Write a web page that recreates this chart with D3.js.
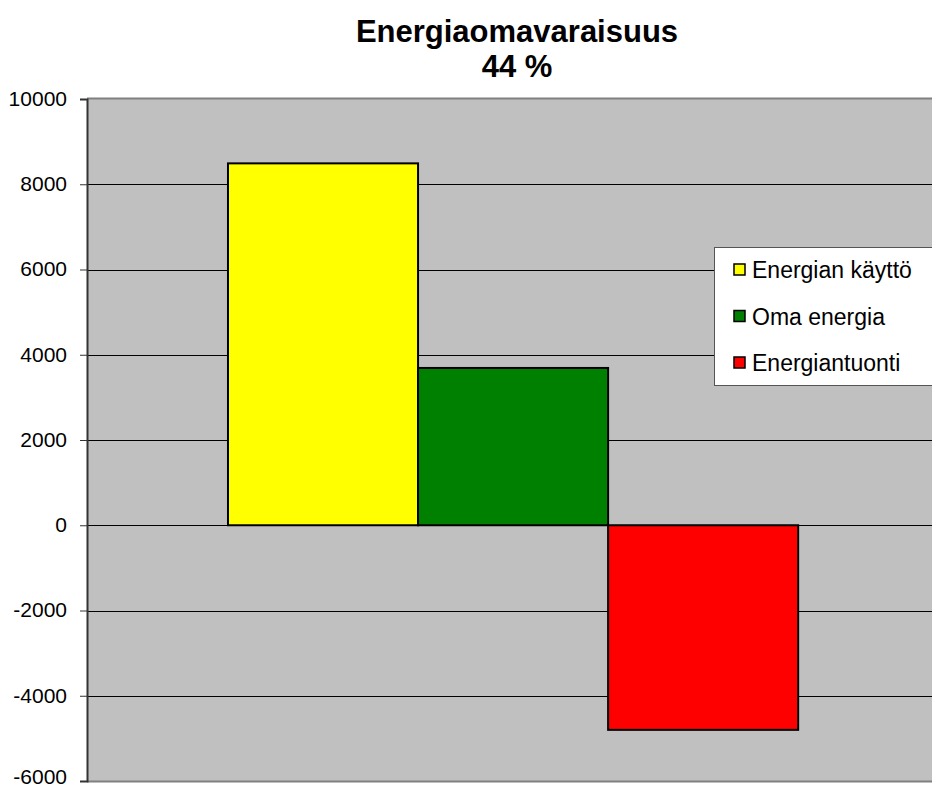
<!DOCTYPE html>
<html>
<head>
<meta charset="utf-8">
<script src="https://cdn.jsdelivr.net/npm/d3@7"></script>
<style>
  body { margin: 0; background: #fff; }
  text { font-family: "Liberation Sans", Arial, sans-serif; }
</style>
</head>
<body>
<div id="chart"></div>
<script>
var categories = ["Energiaomavaraisuus"];
var seriesNames = ["Energian käyttö", "Oma energia", "Energiantuonti"];
var seriesValues = [8490, 3690, -4800];
var seriesColors = ["#ffff00", "#008000", "#ff0000"];
var yTicks = [-6000, -4000, -2000, 0, 2000, 4000, 6000, 8000, 10000];
var titleLines = ["Energiaomavaraisuus", "44 %"];

var margin = {top: 99, right: 0, bottom: 8, left: 87},
    width = 932 - margin.left - margin.right,
    height = 789 - margin.top - margin.bottom;

var svg = d3.select("#chart").append("svg")
    .attr("width", 932)
    .attr("height", 789);

var g = svg.append("g")
    .attr("transform", "translate(" + margin.left + "," + margin.top + ")");

var x0 = d3.scaleBand().domain(categories).range([0, width])
    .paddingInner(0).paddingOuter(0.241).align(0.513);
var x1 = d3.scaleBand().domain(seriesNames).range([0, x0.bandwidth()]).padding(0);
var y = d3.scaleLinear().domain([-6000, 10000]).range([height, 0]);

// plot background
g.append("rect")
    .attr("width", width)
    .attr("height", height)
    .style("fill", "#c0c0c0");

// gridlines
g.selectAll(".grid")
    .data(yTicks.filter(function(d) { return d !== 10000 && d !== -6000; }))
  .enter().append("line")
    .attr("x1", 0)
    .attr("x2", width)
    .attr("y1", function(d) { return Math.round(y(d)) + 0.5; })
    .attr("y2", function(d) { return Math.round(y(d)) + 0.5; })
    .style("stroke", "#000")
    .style("stroke-width", 1);

// top and bottom border of plot
g.append("line").attr("x1", 0).attr("x2", width).attr("y1", -0.5).attr("y2", -0.5)
    .style("stroke", "#808080").style("stroke-width", 2);
g.append("line").attr("x1", 0).attr("x2", width).attr("y1", height + 0.5).attr("y2", height + 0.5)
    .style("stroke", "#808080").style("stroke-width", 2);

// bars
g.selectAll(".bar")
    .data(seriesValues)
  .enter().append("rect")
    .attr("x", function(d, i) { return x0(categories[0]) + x1(seriesNames[i]); })
    .attr("y", function(d) { return y(Math.max(0, d)); })
    .attr("width", x1.bandwidth())
    .attr("height", function(d) { return Math.abs(y(d) - y(0)); })
    .style("fill", function(d, i) { return seriesColors[i]; })
    .style("stroke", "#000")
    .style("stroke-width", 2);

// y axis
var yAxis = g.append("g")
    .call(d3.axisLeft(y).tickValues(yTicks).tickSize(7).tickPadding(13)
      .tickFormat(function(d) { return String(d); }));
yAxis.select(".domain").style("stroke", "#333").style("stroke-width", 2);
yAxis.selectAll(".tick line").style("stroke", "#333");
yAxis.selectAll("text")
    .attr("dy", function(d) { return d === -6000 ? "0.12em" : "0.3em"; })
    .style("font-size", "21px")
    .style("fill", "#000")
    .attr("font-family", "Liberation Sans, Arial, sans-serif");

// title
svg.append("text")
    .attr("x", 517)
    .attr("y", 42)
    .attr("text-anchor", "middle")
    .style("font-size", "31px")
    .style("font-weight", "bold")
    .text(titleLines[0]);
svg.append("text")
    .attr("x", 517)
    .attr("y", 77)
    .attr("text-anchor", "middle")
    .style("font-size", "31px")
    .style("font-weight", "bold")
    .text(titleLines[1]);

// legend
var legend = svg.append("g").attr("transform", "translate(714,247)");
legend.append("rect")
    .attr("x", 0.5)
    .attr("y", 0.5)
    .attr("width", 230)
    .attr("height", 138)
    .style("fill", "#fff")
    .style("stroke", "#555")
    .style("stroke-width", 1);

var item = legend.selectAll(".item")
    .data(seriesNames)
  .enter().append("g")
    .attr("transform", function(d, i) { return "translate(0," + (23 + i * 46.5) + ")"; });

item.append("rect")
    .attr("x", 20)
    .attr("y", -6)
    .attr("width", 11)
    .attr("height", 11)
    .style("fill", function(d, i) { return seriesColors[i]; })
    .style("stroke", "#000")
    .style("stroke-width", 1.5);

item.append("text")
    .attr("x", 38)
    .attr("y", 8)
    .style("font-size", "23px")
    .text(function(d) { return d; });
</script>
</body>
</html>
